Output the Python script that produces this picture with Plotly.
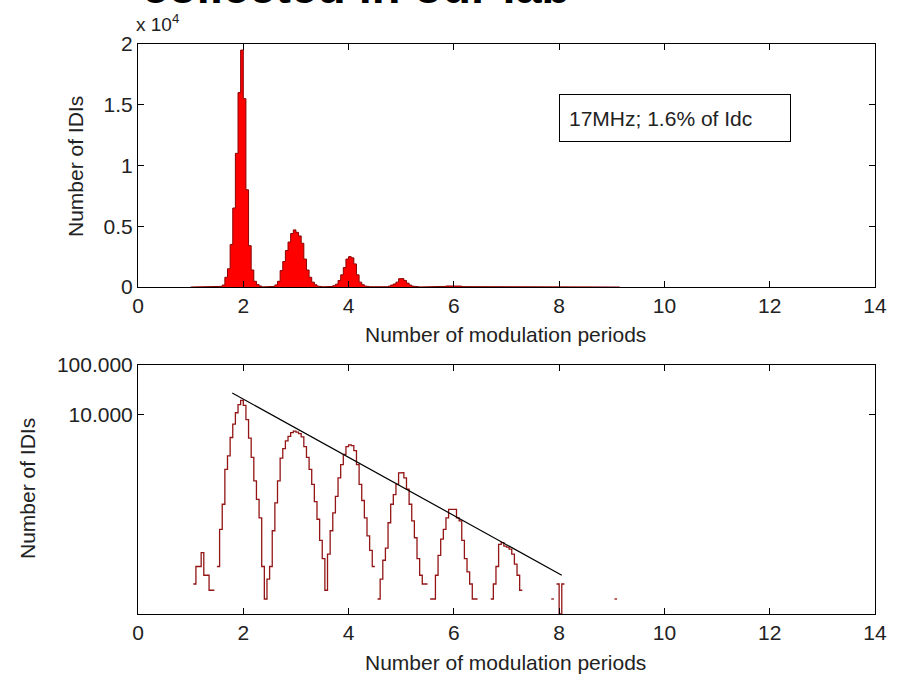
import numpy as np
import plotly.graph_objects as go

# ---------------- data ----------------
bin_start = 1.00
bin_width = 0.05
counts = [
    0, 4, 9, 9, 17, 6, 6, 3, 3, 0,                              # 1.00-1.45
    9, 50, 160, 800, 1500, 3500, 6500, 11000, 16000, 19500,     # 1.50-1.95
    15500, 8000, 3400, 1400, 470, 200, 85, 9, 2, 5,             # 2.00-2.45
    9, 47, 170, 470, 1350, 2100, 3000, 3700, 4400, 4700,        # 2.50-2.95
    4500, 4200, 3600, 2300, 1400, 800, 400, 180, 80, 30,        # 3.00-3.45
    13, 3, 16, 47, 107, 230, 540, 1000, 1600, 2300,             # 3.50-3.95
    2500, 2400, 1900, 1000, 400, 190, 85, 37, 19, 9,            # 4.00-4.45
    0, 2, 5, 12, 21, 68, 160, 250, 400, 680,                    # 4.50-4.95
    690, 540, 320, 160, 74, 34, 13, 6, 4, 4,                    # 5.00-5.45
    0, 2, 2, 6, 15, 32, 50, 85, 126, 126,                       # 5.50-5.95
    126, 85, 74, 30, 13, 7, 4, 2, 2, 0,                         # 6.00-6.45
    0, 0, 0, 0, 2, 4, 9, 25, 27, 23,                            # 6.50-6.95
    22, 20, 16, 10, 6, 3, 0, 0, 0, 0,                           # 7.00-7.45
    0, 0, 0, 0, 0, 0, 0, 2, 0, 4,                               # 7.50-7.95
    1, 4, 0, 0, 0, 0, 0, 0, 0, 0,                               # 8.00-8.45
    0, 0, 0, 0, 0, 0, 0, 0, 0, 0,                               # 8.50-8.95
    0, 2, 0,                                                    # 9.00-9.10
]
fit_x = [1.79, 8.05]
fit_y = [27500, 6]

x_ticks = [0, 2, 4, 6, 8, 10, 12, 14]
top_y_ticks = [0, 5000, 10000, 15000, 20000]
top_y_labels = ["0", "0.5", "1", "1.5", "2"]
log_y_ticks = [10000, 100000]
log_y_labels = ["10.000", "100.000"]

annotation_text = "17MHz; 1.6% of Idc"
title_text = "collected in our lab"
x_label = "Number of modulation periods"
y_label = "Number of IDIs"

# ---------------- build stair paths from the data ----------------
edges = [round(bin_start + bin_width * i, 4) for i in range(len(counts) + 1)]

top_x, top_y = [], []
for i, c in enumerate(counts):
    top_x += [edges[i], edges[i + 1]]
    top_y += [c, c]

log_x, log_y = [], []
for i, c in enumerate(counts):
    if c > 0:
        log_x += [edges[i], edges[i + 1]]
        log_y += [c, c]
        if i + 1 >= len(counts) or counts[i + 1] == 0:
            log_x.append(None)
            log_y.append(None)

W, H = 901, 674
def px(xp):
    return xp / W
def py(yp):
    return 1 - yp / H

FONT = "Liberation Sans, Arial, sans-serif"

fig = go.Figure()
fig.add_trace(go.Scatter(x=top_x, y=top_y, mode="lines", fill="tozeroy",
                         fillcolor="#ff0000", line=dict(color="#8b0000", width=1),
                         xaxis="x", yaxis="y", showlegend=False))
fig.add_trace(go.Scatter(x=log_x, y=log_y, mode="lines",
                         line=dict(color="#931515", width=1.3),
                         xaxis="x2", yaxis="y2", showlegend=False, connectgaps=False))
fig.add_trace(go.Scatter(x=fit_x, y=fit_y, mode="lines",
                         line=dict(color="black", width=1.2),
                         xaxis="x2", yaxis="y2", showlegend=False))

axis_common = dict(showline=True, linecolor="black", linewidth=1, mirror="ticks",
                   ticks="inside", ticklen=6, tickcolor="black", showgrid=False,
                   zeroline=False, automargin=False,
                   tickfont=dict(family=FONT, size=21, color="#222"))

fig.update_layout(
    width=W, height=H,
    margin=dict(l=0, r=0, t=0, b=0, pad=0),
    paper_bgcolor="white", plot_bgcolor="white",
    xaxis=dict(domain=[px(138), px(875)], range=[0, 14], tickvals=x_ticks,
               anchor="y", **axis_common),
    yaxis=dict(domain=[py(287), py(44)], range=[0, 20000], tickvals=top_y_ticks,
               ticktext=top_y_labels, anchor="x", **axis_common),
    xaxis2=dict(domain=[px(138), px(875)], range=[0, 14], tickvals=x_ticks,
                anchor="y2", **axis_common),
    yaxis2=dict(domain=[py(614), py(365)], type="log", range=[0, 5],
                tickvals=log_y_ticks, ticktext=log_y_labels, anchor="x2", **axis_common),
)

ann_font = dict(family=FONT, size=21, color="#222")
fig.add_annotation(x=px(505), y=py(334), xref="paper", yref="paper", text=x_label,
                   showarrow=False, font=ann_font, xanchor="center", yanchor="middle")
fig.add_annotation(x=px(505), y=py(662), xref="paper", yref="paper", text=x_label,
                   showarrow=False, font=ann_font, xanchor="center", yanchor="middle")
fig.add_annotation(x=px(75), y=py(167), xref="paper", yref="paper", text=y_label,
                   showarrow=False, font=ann_font, textangle=-90,
                   xanchor="center", yanchor="middle")
fig.add_annotation(x=px(27), y=py(489), xref="paper", yref="paper", text=y_label,
                   showarrow=False, font=ann_font, textangle=-90,
                   xanchor="center", yanchor="middle")
fig.add_annotation(x=px(134), y=py(37), xref="paper", yref="paper",
                   text="x 10<sup>4</sup>", showarrow=False,
                   font=dict(family=FONT, size=19, color="#222"),
                   xanchor="left", yanchor="bottom")
fig.add_annotation(x=px(559), y=py(94), xref="paper", yref="paper",
                   text=annotation_text, showarrow=False, font=ann_font,
                   xanchor="left", yanchor="top", bordercolor="black", borderwidth=1,
                   borderpad=9, bgcolor="white", width=212, height=28, align="left",
                   valign="middle")
fig.add_annotation(x=px(140), y=py(15), xref="paper", yref="paper",
                   text="<b>" + title_text + "</b>", showarrow=False,
                   font=dict(family="Liberation Sans, Arial, sans-serif", size=47, color="black"),
                   xanchor="left", yanchor="bottom")

fig.write_html("out.html")
